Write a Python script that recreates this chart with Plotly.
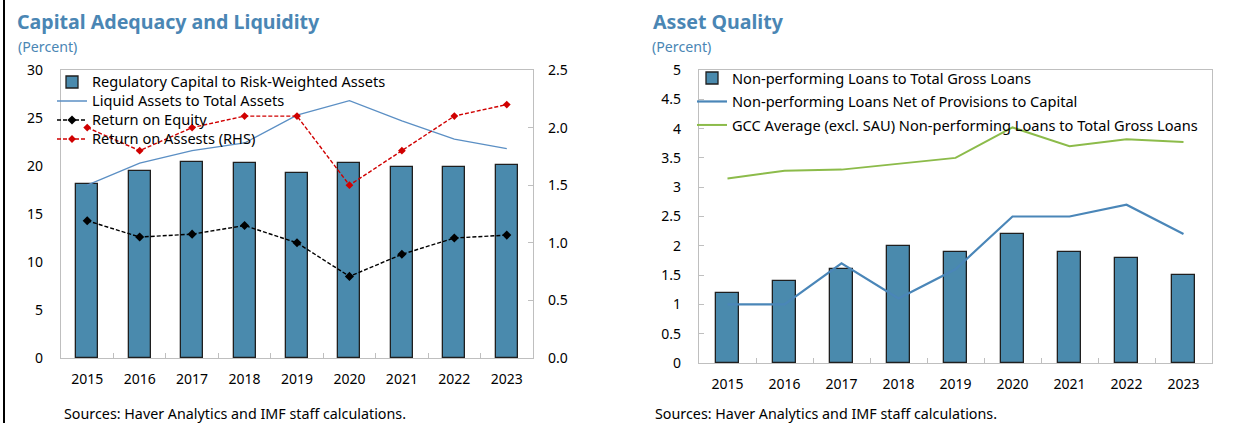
import plotly.graph_objects as go

W, H = 1243, 423

years = ["2015", "2016", "2017", "2018", "2019", "2020", "2021", "2022", "2023"]

# Left panel: Capital Adequacy and Liquidity
reg_capital_rwa = [18.1, 19.5, 20.4, 20.3, 19.3, 20.3, 19.9, 19.9, 20.1]
liquid_assets = [18.0, 20.3, 21.6, 22.4, 25.3, 26.8, 24.7, 22.8, 21.8]
return_on_equity = [14.3, 12.6, 12.9, 13.8, 12.0, 8.5, 10.8, 12.5, 12.8]
return_on_assets = [2.0, 1.8, 2.0, 2.1, 2.1, 1.5, 1.8, 2.1, 2.2]

# Right panel: Asset Quality
npl_to_gross = [1.2, 1.4, 1.6, 2.0, 1.9, 2.2, 1.9, 1.8, 1.5]
npl_net_to_capital = [1.0, 1.0, 1.7, 1.1, 1.6, 2.5, 2.5, 2.7, 2.2]
gcc_avg_npl = [3.15, 3.28, 3.30, 3.40, 3.50, 4.02, 3.70, 3.82, 3.77]

FONT = "Noto Sans"
TITLE_C = "#4a86b4"
FRAME_C = "#bfbfbf"
BAR_C = "#4a8aad"


def px_x(p):
    return p / W


def px_y(p):
    return 1 - p / H


def big(s, size=14.6):
    return f'<span style="font-size:{size}px">{s}</span>'


fig = go.Figure()

# ---- left panel traces
fig.add_trace(go.Bar(x=years, y=reg_capital_rwa, name=big("Regulatory Capital to Risk-Weighted Assets"),
                     marker=dict(color=BAR_C, line=dict(color="#1f1f1f", width=1.3)),
                     width=0.42, xaxis="x", yaxis="y", legend="legend"))
fig.add_trace(go.Scatter(x=years, y=liquid_assets, name=big("Liquid Assets to Total Assets"),
                         mode="lines", line=dict(color="#5b8fc4", width=1.3),
                         xaxis="x", yaxis="y", legend="legend"))
fig.add_trace(go.Scatter(x=years, y=return_on_equity, name=big("Return on Equity"),
                         mode="lines+markers", line=dict(color="#000000", width=1.4, dash="4px,2px"),
                         marker=dict(symbol="diamond", size=7, color="#000000"),
                         xaxis="x", yaxis="y", legend="legend"))
fig.add_trace(go.Scatter(x=years, y=return_on_assets, name=big("Return on Assests (RHS)"),
                         mode="lines+markers", line=dict(color="#d00000", width=1.4, dash="4px,2px"),
                         marker=dict(symbol="diamond", size=6, color="#d00000"),
                         xaxis="x", yaxis="y2", legend="legend"))

# ---- right panel traces
fig.add_trace(go.Bar(x=years, y=npl_to_gross, name="Non-performing Loans to Total Gross Loans",
                     marker=dict(color=BAR_C, line=dict(color="#1f1f1f", width=1.3)),
                     width=0.39, xaxis="x3", yaxis="y3", legend="legend2", legendgroup="a"))
fig.add_trace(go.Scatter(x=years, y=npl_net_to_capital, name="Non-performing Loans Net of Provisions to Capital",
                         mode="lines", line=dict(color="#4a86b8", width=2.2),
                         xaxis="x3", yaxis="y3", legend="legend2", legendgroup="b"))
fig.add_trace(go.Scatter(x=years, y=gcc_avg_npl, name="GCC Average (excl. SAU) Non-performing Loans to Total Gross Loans",
                         mode="lines", line=dict(color="#8cbb4a", width=2.0),
                         xaxis="x3", yaxis="y3", legend="legend2", legendgroup="c"))

tickfont = dict(family=FONT, size=14, color="#000000")

xcommon = dict(type="category", range=[-0.5, 8.5], tickson="boundaries", ticks="inside",
               ticklen=5, tickcolor=FRAME_C, tickwidth=1, showline=True, linecolor=FRAME_C,
               linewidth=1.3, mirror=True, showgrid=False, zeroline=False, tickfont=tickfont,
               ticklabelstandoff=8, fixedrange=True, automargin=False)

L_dom_x = [px_x(61), px_x(533)]
R_dom_x = [px_x(699), px_x(1212)]
L_dom_y = [px_y(358), px_y(70)]
R_dom_y = [px_y(363), px_y(70)]

fig.update_layout(
    width=W, height=H,
    margin=dict(l=0, r=0, t=0, b=0, pad=0, autoexpand=False),
    paper_bgcolor="white", plot_bgcolor="white",
    font=dict(family=FONT, color="#000000"),
    showlegend=True,
    bargap=0,
    xaxis=dict(domain=L_dom_x, anchor="y", **xcommon),
    yaxis=dict(domain=L_dom_y, anchor="x", range=[0, 30], dtick=5, showline=True,
               linecolor=FRAME_C, linewidth=1.3, mirror=True, ticks="", showgrid=False,
               zeroline=False, tickfont=tickfont, ticklabelstandoff=14, fixedrange=True,
               automargin=False),
    yaxis2=dict(overlaying="y", side="right", anchor="x", range=[0, 2.5], dtick=0.5,
                tickformat=".1f", ticks="inside", ticklen=5, tickcolor=FRAME_C,
                showline=False, showgrid=False, zeroline=False, tickfont=tickfont,
                ticklabelstandoff=14, fixedrange=True, automargin=False),
    xaxis3=dict(domain=R_dom_x, anchor="y3", **xcommon),
    yaxis3=dict(domain=R_dom_y, anchor="x3", range=[0, 5], dtick=0.5, showline=True,
                linecolor=FRAME_C, linewidth=1.3, mirror=True, ticks="inside", ticklen=5,
                tickcolor=FRAME_C, showgrid=False, zeroline=False, tickfont=tickfont,
                ticklabelstandoff=14, fixedrange=True, automargin=False),
    legend=dict(x=px_x(52), y=px_y(67.5), xanchor="left", yanchor="top",
                bgcolor="rgba(255,255,255,0)", borderwidth=0,
                font=dict(family=FONT, size=12, color="#000000"),
                itemwidth=30, traceorder="normal", tracegroupgap=0),
    legend2=dict(x=px_x(692), y=px_y(62), xanchor="left", yanchor="top",
                 bgcolor="rgba(255,255,255,0)", borderwidth=0,
                 font=dict(family=FONT, size=14.6, color="#000000"),
                 itemwidth=30, traceorder="grouped", tracegroupgap=1.5),
    shapes=[dict(type="line", xref="paper", yref="paper", x0=px_x(4), x1=px_x(4),
                 y0=0, y1=1, line=dict(color="#000000", width=2))],
    annotations=[
        dict(text="<b>Capital Adequacy and Liquidity</b>", x=px_x(15), y=px_y(22),
             xref="paper", yref="paper", xanchor="left", yanchor="middle", showarrow=False,
             font=dict(family=FONT, size=19.6, color=TITLE_C)),
        dict(text="(Percent)", x=px_x(16), y=px_y(46), xref="paper", yref="paper",
             xanchor="left", yanchor="middle", showarrow=False,
             font=dict(family=FONT, size=14.2, color=TITLE_C)),
        dict(text="<b>Asset Quality</b>", x=px_x(651), y=px_y(22),
             xref="paper", yref="paper", xanchor="left", yanchor="middle", showarrow=False,
             font=dict(family=FONT, size=19.6, color=TITLE_C)),
        dict(text="(Percent)", x=px_x(650), y=px_y(46), xref="paper", yref="paper",
             xanchor="left", yanchor="middle", showarrow=False,
             font=dict(family=FONT, size=14.2, color=TITLE_C)),
        dict(text="Sources: Haver Analytics and IMF staff calculations.", x=px_x(62), y=px_y(413),
             xref="paper", yref="paper", xanchor="left", yanchor="middle", showarrow=False,
             font=dict(family=FONT, size=14.3, color="#000000")),
        dict(text="Sources: Haver Analytics and IMF staff calculations.", x=px_x(653), y=px_y(413),
             xref="paper", yref="paper", xanchor="left", yanchor="middle", showarrow=False,
             font=dict(family=FONT, size=14.3, color="#000000")),
    ],
)

fig.write_html(
    "out.html",
    config={"displayModeBar": False},
    post_script="document.body.style.margin='0';document.body.style.padding='0';"
                "document.documentElement.style.overflow='hidden';",
)
